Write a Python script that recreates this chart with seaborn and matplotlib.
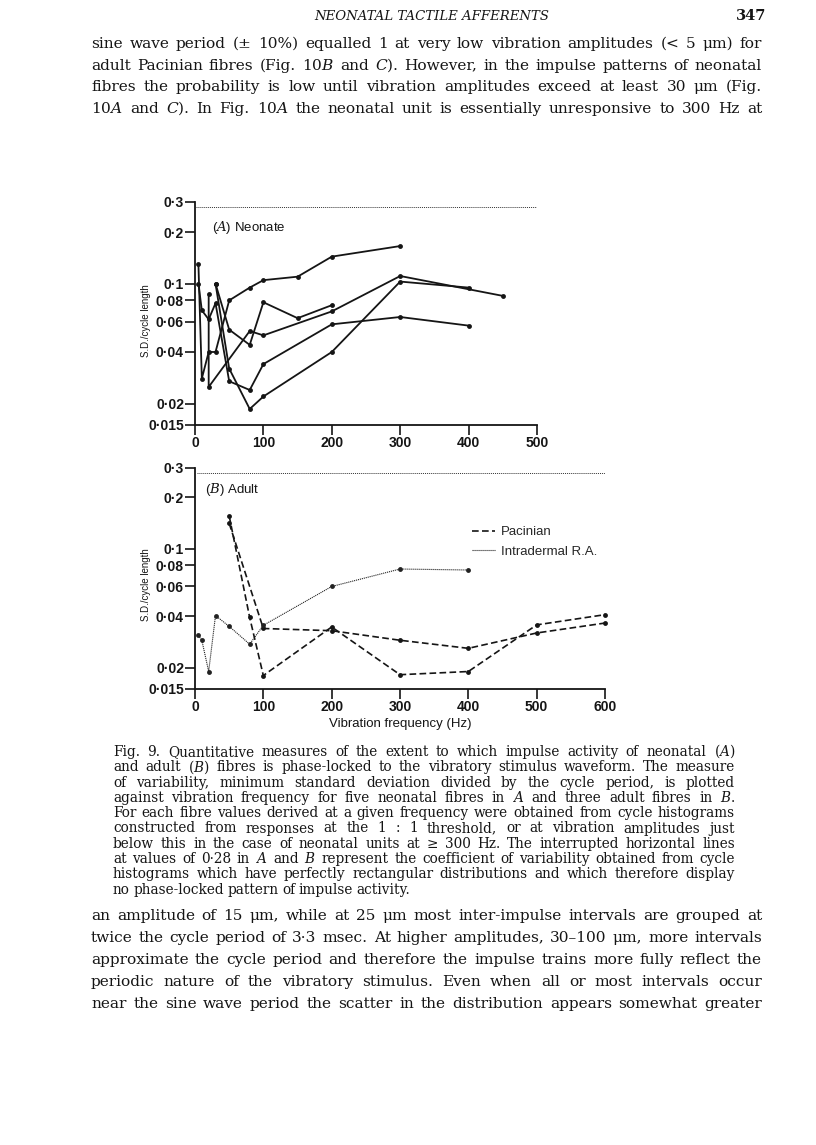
import matplotlib
matplotlib.use("Agg")
import matplotlib.pyplot as plt
from matplotlib.ticker import NullLocator
from matplotlib.lines import Line2D
import pandas as pd
import seaborn as sns

# ---- data ----
# (A) neonate, five fibres
neo1_hz = [5, 10, 20, 30, 50, 80, 100, 150, 200, 300]
neo1_sd = [0.13, 0.028, 0.04, 0.04, 0.08, 0.095, 0.105, 0.11, 0.144, 0.166]
neo2_hz = [5, 10, 20, 30, 50, 80, 100, 200, 300, 400]
neo2_sd = [0.1, 0.07, 0.062, 0.077, 0.027, 0.024, 0.034, 0.058, 0.064, 0.057]
neo3_hz = [20, 20, 80, 100, 200, 300, 450]
neo3_sd = [0.087, 0.025, 0.053, 0.05, 0.069, 0.111, 0.085]
neo4_hz = [30, 50, 80, 100, 200, 300, 400]
neo4_sd = [0.1, 0.032, 0.0186, 0.022, 0.04, 0.103, 0.095]
neo5_hz = [30, 50, 80, 100, 150, 200]
neo5_sd = [0.1, 0.054, 0.044, 0.078, 0.063, 0.075]

# (B) adult: two pacinian, one intradermal R.A.
pac1_hz = [50, 100, 200, 300, 400, 500, 600]
pac1_sd = [0.141, 0.034, 0.033, 0.029, 0.026, 0.032, 0.0366]
pac2_hz = [50, 80, 100, 200, 300, 400, 500, 600]
pac2_sd = [0.156, 0.0395, 0.018, 0.0347, 0.0182, 0.019, 0.0357, 0.041]
ra_hz = [5, 10, 20, 30, 50, 80, 100, 200, 300, 400]
ra_sd = [0.031, 0.029, 0.019, 0.0405, 0.035, 0.0275, 0.0355, 0.060, 0.076, 0.075]

rect_cv = 0.28

y_ticks = [0.015, 0.02, 0.04, 0.06, 0.08, 0.1, 0.2, 0.3]
y_labels = ["0·015", "0·02", "0·04", "0·06", "0·08", "0·1", "0·2", "0·3"]
xa_ticks = [0, 100, 200, 300, 400, 500]
xb_ticks = [0, 100, 200, 300, 400, 500, 600]

head_text = "NEONATAL TACTILE AFFERENTS"
page_no = "347"
top_lines = [
    "sine wave period (± 10%) equalled 1 at very low vibration amplitudes (< 5 μm) for",
    r"adult Pacinian fibres (Fig. 10$\it{B}$ and $\it{C}$). However, in the impulse patterns of neonatal",
    "fibres the probability is low until vibration amplitudes exceed at least 30 μm (Fig.",
    r"10$\it{A}$ and $\it{C}$). In Fig. 10$\it{A}$ the neonatal unit is essentially unresponsive to 300 Hz at",
]
caption_lines = [
    r"Fig. 9. Quantitative measures of the extent to which impulse activity of neonatal ($\it{A}$)",
    r"and adult ($\it{B}$) fibres is phase-locked to the vibratory stimulus waveform. The measure",
    "of variability, minimum standard deviation divided by the cycle period, is plotted",
    r"against vibration frequency for five neonatal fibres in $\it{A}$ and three adult fibres in $\it{B}$.",
    "For each fibre values derived at a given frequency were obtained from cycle histograms",
    "constructed from responses at the 1 : 1 threshold, or at vibration amplitudes just",
    "below this in the case of neonatal units at ≥ 300 Hz. The interrupted horizontal lines",
    r"at values of 0·28 in $\it{A}$ and $\it{B}$ represent the coefficient of variability obtained from cycle",
    "histograms which have perfectly rectangular distributions and which therefore display",
    "no phase-locked pattern of impulse activity.",
]
bottom_lines = [
    "an amplitude of 15 μm, while at 25 μm most inter-impulse intervals are grouped at",
    "twice the cycle period of 3·3 msec. At higher amplitudes, 30–100 μm, more intervals",
    "approximate the cycle period and therefore the impulse trains more fully reflect the",
    "periodic nature of the vibratory stimulus. Even when all or most intervals occur",
    "near the sine wave period the scatter in the distribution appears somewhat greater",
]


def to_frame(series):
    rows = []
    for name, hz, sd in series:
        for i, (f, v) in enumerate(zip(hz, sd)):
            rows.append({"fibre": name, "order": i, "freq": f, "sd": v})
    return pd.DataFrame(rows)


neo_df = to_frame([("n1", neo1_hz, neo1_sd), ("n2", neo2_hz, neo2_sd),
                   ("n3", neo3_hz, neo3_sd), ("n4", neo4_hz, neo4_sd),
                   ("n5", neo5_hz, neo5_sd)])
pac_df = to_frame([("p1", pac1_hz, pac1_sd), ("p2", pac2_hz, pac2_sd)])
ra_df = to_frame([("r1", ra_hz, ra_sd)])

sns.set_theme(style="ticks")
plt.rcParams["font.family"] = ["Liberation Sans", "DejaVu Sans"]
plt.rcParams["mathtext.fontset"] = "custom"
plt.rcParams["mathtext.it"] = "DejaVu Serif:italic"
plt.rcParams["mathtext.rm"] = "DejaVu Serif"

SERIF = "DejaVu Serif"
INK = "#151515"
W, H = 816, 1145
fig = plt.figure(figsize=(W / 100, H / 100), dpi=100)
fig.patch.set_facecolor("white")
renderer = fig.canvas.get_renderer()


def fx(px):
    return px / W


def fy(py):
    return 1 - py / H


def natural_width(line, size):
    t = fig.text(0, 0, line, fontsize=size, family=SERIF)
    w = t.get_window_extent(renderer).width
    t.remove()
    return w


def fit_size(lines, span, base=10.0, cap=12.0):
    # largest size that keeps every full line inside the column
    best = cap
    for line in lines:
        best = min(best, base * span * 0.985 / natural_width(line, base))
    return best


def justify(line, x0, x1, y, size, last=False):
    words = line.split(" ")
    objs = [fig.text(0, fy(y), w, fontsize=size, family=SERIF,
                     va="baseline", ha="left", color=INK) for w in words]
    widths = [o.get_window_extent(renderer).width for o in objs]
    if last or len(words) == 1:
        gap = size * 0.35
    else:
        gap = (x1 - x0 - sum(widths)) / (len(words) - 1)
    x = x0
    for o, w in zip(objs, widths):
        o.set_x(fx(x))
        x += w + gap


def style_axis(ax, xmax, xticks):
    ax.set_yscale("log")
    ax.set_ylim(0.015, 0.3)
    ax.set_xlim(0, xmax)
    ax.set_yticks(y_ticks, labels=y_labels)
    ax.yaxis.set_minor_locator(NullLocator())
    ax.set_xticks(xticks, labels=[str(t) for t in xticks])
    ax.tick_params(direction="out", length=7, width=1.2, labelsize=10,
                   pad=1, colors=INK)
    for lab in ax.get_xticklabels() + ax.get_yticklabels():
        lab.set_fontweight("bold")
    for s in ["left", "bottom"]:
        ax.spines[s].set_linewidth(1.3)
        ax.spines[s].set_color(INK)
    sns.despine(ax=ax)
    ax.set_xlabel("")
    ax.set_ylabel("S.D./cycle length", fontsize=7, color=INK)
    ax.set_facecolor("white")


# ---- (A) neonate ----
axA = fig.add_axes([fx(195), fy(425), 342 / W, 223 / H])
sns.lineplot(data=neo_df, x="freq", y="sd", units="fibre", estimator=None,
             sort=False, color=INK, lw=1.3, marker="o", markersize=3.5,
             markeredgewidth=0, ax=axA, clip_on=False)
axA.plot([2, 500], [rect_cv, rect_cv], ls=(0, (1, 1)), lw=0.7, color="#333333")
style_axis(axA, 500, xa_ticks)
axA.yaxis.set_label_coords(-0.13, 0.47)
axA.text(0.05, 0.885, r"($\it{A}$) Neonate", transform=axA.transAxes,
         fontsize=9.5, color=INK, va="center")

# ---- (B) adult ----
axB = fig.add_axes([fx(195), fy(689), 410 / W, 221.5 / H])
sns.lineplot(data=pac_df, x="freq", y="sd", units="fibre", estimator=None,
             sort=False, color=INK, lw=1.2, ls=(0, (4, 2)), marker="o",
             markersize=3.5, markeredgewidth=0, ax=axB, clip_on=False)
sns.lineplot(data=ra_df, x="freq", y="sd", units="fibre", estimator=None,
             sort=False, color="#222222", lw=0.8, ls=(0, (1, 0.8)), marker="o",
             markersize=3.5, markeredgewidth=0, ax=axB, clip_on=False)
axB.plot([3, 600], [rect_cv, rect_cv], ls=(0, (1, 1)), lw=0.7, color="#333333")
style_axis(axB, 600, xb_ticks)
axB.yaxis.set_label_coords(-0.108, 0.47)
axB.set_xlabel("Vibration frequency (Hz)", fontsize=9.5, color=INK,
               labelpad=3)
axB.text(0.025, 0.9, r"($\it{B}$) Adult", transform=axB.transAxes,
         fontsize=9.5, color=INK, va="center")
handles = [Line2D([0], [0], color=INK, lw=1.2, ls=(0, (4, 2))),
           Line2D([0], [0], color="#222222", lw=0.8, ls=(0, (1, 0.8)))]
axB.legend(handles, ["Pacinian", "Intradermal R.A."], loc="upper left",
           bbox_to_anchor=(0.66, 0.765), frameon=False, fontsize=9.5,
           handlelength=1.7, handletextpad=0.5, borderpad=0, labelspacing=0.55)

# ---- page text ----
fig.text(fx(432), fy(20), head_text, fontsize=9.5, family=SERIF,
         style="italic", ha="center", va="baseline", color=INK)
fig.text(fx(766), fy(20), page_no, fontsize=10.5, family=SERIF,
         weight="bold", ha="right", va="baseline", color=INK)

body_size = fit_size(top_lines + bottom_lines, 762 - 91, cap=11.5)
cap_size = fit_size(caption_lines[:-1], 735 - 113, cap=9.8)
for i, line in enumerate(top_lines):
    justify(line, 91, 762, 48 + i * 21.7, body_size)
for i, line in enumerate(caption_lines):
    justify(line, 113, 735, 756 + i * 15.3, cap_size,
            last=(i == len(caption_lines) - 1))
for i, line in enumerate(bottom_lines):
    justify(line, 91, 762, 920 + i * 22, body_size)

fig.savefig("out.png", dpi=100, facecolor="white")
